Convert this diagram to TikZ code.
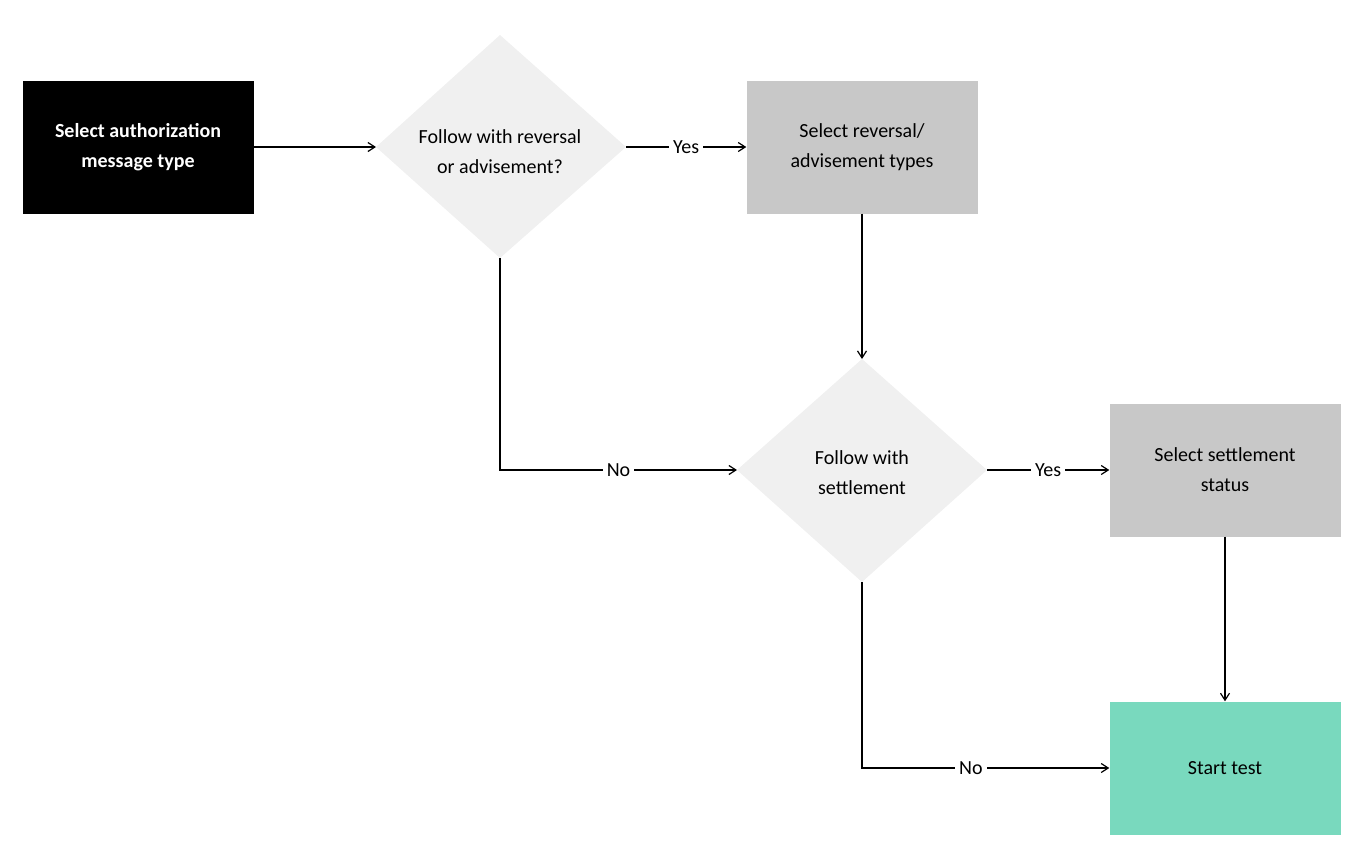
\documentclass[tikz,border=0pt]{standalone}
\usepackage{fontspec}
\setmainfont{Carlito}
\usetikzlibrary{arrows.meta}
\definecolor{boxgray}{HTML}{C8C8C8}
\definecolor{dgray}{HTML}{F0F0F0}
\definecolor{teal}{HTML}{79D9BE}
\begin{document}
\begin{tikzpicture}[x=1pt,y=-1pt,
  every node/.style={font=\fontsize{20}{30}\selectfont, align=center},
  box/.style={draw=none, minimum width=231pt, minimum height=133pt, inner sep=0pt},
  arr/.style={draw=black, line width=1.2pt, -{Straight Barb[length=7pt,width=9pt]}},
  lbl/.style={fill=white, inner sep=4pt}]
\useasboundingbox (0,0) rectangle (1369,852);
\node[box, fill=black, text=white, font=\fontsize{20}{30}\selectfont\bfseries] (b1) at (138,147) {Select authorization\\message type};
\node[box, fill=boxgray] (b2) at (862,147) {Select reversal/\\advisement types};
\node[box, fill=boxgray] (b3) at (1225,470) {Select settlement\\status};
\node[box, fill=teal] (b4) at (1225,768) {Start test};
% diamond 1
\coordinate (d1l) at (376,147); \coordinate (d1r) at (626,147);
\coordinate (d1t) at (500,35); \coordinate (d1b) at (500,258);
\fill[dgray] (d1l) -- (d1t) -- (d1r) -- (d1b) -- cycle;
\node (d1) at (500,152) {Follow with reversal\\or advisement?};
% diamond 2
\coordinate (d2l) at (737,470); \coordinate (d2r) at (987,470);
\coordinate (d2t) at (862,359); \coordinate (d2b) at (862,582);
\fill[dgray] (d2l) -- (d2t) -- (d2r) -- (d2b) -- cycle;
\node (d2) at (862,473) {Follow with\\settlement};
% connectors
\draw[arr] (b1.east) -- (d1l);
\draw[arr] (d1r) -- node[lbl] {Yes} (b2.west);
\draw[arr] (b2.south) -- (d2t);
\draw[arr] (d1b) |- node[lbl, pos=0.75] {No} (d2l);
\draw[arr] (d2r) -- node[lbl] {Yes} (b3.west);
\draw[arr] (b3.south) -- (b4.north);
\draw[arr] (d2b) |- node[lbl, pos=0.72] {No} (b4.west);
\end{tikzpicture}
\end{document}
